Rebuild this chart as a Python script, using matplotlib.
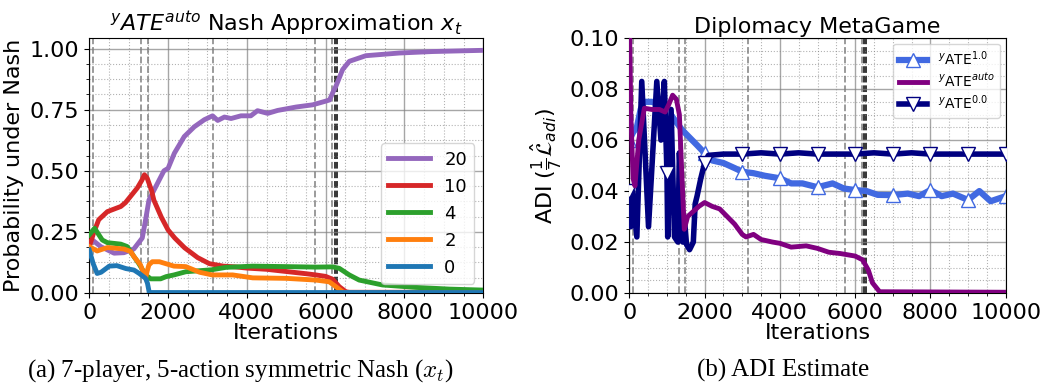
import matplotlib
matplotlib.use("Agg")
import matplotlib.pyplot as plt
from matplotlib.ticker import AutoMinorLocator

# Nash approximation x_t, one curve per action (left panel)
p20_it = [0, 80, 290, 630, 880, 1130, 1345, 1430, 1515, 1640, 1895, 2000, 2160, 2410, 2665, 2920,
          3130, 3260, 3430, 3600, 3850, 4100, 4270, 4530, 4780, 4950, 5250, 5670, 6000, 6100,
          6180, 6260, 6430, 6600, 7020, 7870, 8710, 10000]
p20 = [0.20, 0.217, 0.19, 0.163, 0.165, 0.18, 0.225, 0.30, 0.38, 0.42, 0.50, 0.51, 0.572, 0.64,
       0.68, 0.709, 0.725, 0.706, 0.72, 0.714, 0.725, 0.725, 0.746, 0.735, 0.747, 0.752, 0.761,
       0.77, 0.785, 0.79, 0.82, 0.846, 0.914, 0.948, 0.971, 0.982, 0.988, 0.993]

p10_it = [0, 120, 240, 460, 800, 920, 1220, 1330, 1400, 1470, 1580, 1640, 1830, 2000, 2170, 2420,
          2750, 3050, 3400, 3700, 4000, 4500, 5000, 5500, 5750, 6000, 6180, 6345, 6515, 6600, 10000]
p10 = [0.19, 0.25, 0.30, 0.333, 0.354, 0.37, 0.43, 0.46, 0.484, 0.47, 0.42, 0.38, 0.31, 0.258,
       0.225, 0.185, 0.145, 0.12, 0.11, 0.107, 0.102, 0.097, 0.088, 0.079, 0.074, 0.068, 0.056,
       0.026, 0.005, 0.003, 0.003]

p4_it = [0, 135, 330, 460, 800, 965, 1134, 1260, 1430, 1560, 1810, 1950, 2150, 2450, 3100, 3470,
         4150, 5000, 5750, 6180, 6345, 6600, 6850, 7440, 8290, 9140, 10000]
p4 = [0.238, 0.265, 0.217, 0.206, 0.20, 0.19, 0.149, 0.12, 0.074, 0.058, 0.058, 0.067, 0.074,
      0.087, 0.095, 0.105, 0.11, 0.108, 0.106, 0.107, 0.101, 0.074, 0.053, 0.033, 0.023, 0.016,
      0.012]

p2_it = [0, 200, 460, 880, 1050, 1134, 1300, 1430, 1470, 1514, 1600, 1780, 2150, 2450, 2800, 3120,
         3640, 4150, 5000, 5750, 6090, 6260, 6430, 6500, 10000]
p2 = [0.19, 0.172, 0.186, 0.18, 0.17, 0.149, 0.115, 0.06, 0.09, 0.115, 0.128, 0.128, 0.11, 0.108,
      0.085, 0.074, 0.074, 0.062, 0.06, 0.053, 0.046, 0.026, 0.005, 0.001, 0.001]

p0_it = [0, 100, 200, 300, 508, 700, 931, 1134, 1269, 1430, 1477, 1523, 10000]
p0 = [0.176, 0.12, 0.08, 0.085, 0.11, 0.112, 0.10, 0.094, 0.08, 0.06, 0.04, 0.002, 0.002]

# ADI estimates (right panel)
ate10_it = [0, 100, 200, 300, 400, 600, 800, 1000, 1200, 1400, 1600, 1800, 2000, 2200, 2500, 2800,
            3000, 3300, 3600, 4000, 4300, 4600, 5000, 5400, 5700, 6000, 6300, 6600, 7000, 7400,
            7700, 8000, 8300, 8600, 9000, 9300, 9600, 10000]
ate10 = [0.06, 0.063, 0.065, 0.072, 0.075, 0.075, 0.074, 0.072, 0.068, 0.064, 0.061, 0.058, 0.0549,
         0.052, 0.051, 0.049, 0.0476, 0.047, 0.046, 0.045, 0.043, 0.043, 0.0415, 0.043, 0.041,
         0.0404, 0.040, 0.0385, 0.0384, 0.039, 0.038, 0.0404, 0.038, 0.039, 0.0365, 0.040, 0.036,
         0.038]

auto_it = [0, 40, 100, 150, 250, 400, 600, 800, 950, 1050, 1150, 1250, 1330, 1400, 1460, 1550,
           1700, 1850, 2000, 2200, 2400, 2600, 2800, 3000, 3100, 3300, 3500, 3800, 4000, 4300,
           4700, 5000, 5300, 5600, 6000, 6200, 6350, 6460, 6650, 10000]
auto = [0.11, 0.07, 0.045, 0.042, 0.06, 0.0725, 0.072, 0.072, 0.071, 0.074, 0.0776, 0.076, 0.07,
        0.045, 0.025, 0.03, 0.032, 0.034, 0.0355, 0.034, 0.033, 0.030, 0.027, 0.023, 0.022, 0.023,
        0.021, 0.020, 0.0195, 0.018, 0.0185, 0.0175, 0.016, 0.0155, 0.0145, 0.013, 0.009, 0.004,
        0.0005, 0.0003]

ate00_it = [0, 40, 80, 200, 330, 510, 730, 840, 930, 1000, 1020, 1110, 1200, 1290, 1330, 1380,
            1420, 1470, 1520, 1600, 1700, 1750, 1800, 1900, 2000, 2100, 2500, 3000, 3500, 4000,
            4500, 5000, 5500, 6000, 6500, 7000, 7500, 8000, 8500, 9000, 9500, 10000]
ate00 = [0.040, 0.026, 0.040, 0.022, 0.083, 0.026, 0.083, 0.060, 0.083, 0.047, 0.022, 0.072,
         0.022, 0.020, 0.055, 0.040, 0.020, 0.028, 0.019, 0.017, 0.020, 0.035, 0.038, 0.045, 0.051,
         0.054, 0.0545, 0.0545, 0.055, 0.0545, 0.055, 0.0545, 0.0545, 0.0545, 0.055, 0.0545, 0.055,
         0.0545, 0.0545, 0.0545, 0.0545, 0.0545]

# iterations where the meta-game was refit
refits = [100, 1320, 1490, 3145, 5735, 6170, 6240, 6280]
refit_colors = ["gray", "gray", "gray", "gray", "gray", "gray", "k", "k"]

plt.rcParams["font.size"] = 16

fig = plt.figure(figsize=(10.44, 3.88), dpi=100)
ax1 = fig.add_axes([0.0855, 0.2448, 0.3774, 0.657])
ax2 = fig.add_axes([0.6028, 0.2448, 0.3605, 0.657])


def decorate(ax):
    for it, c in zip(refits, refit_colors):
        ax.axvline(it, color=c, ls="--", lw=1.3, alpha=0.85, zorder=1)
    ax.xaxis.set_minor_locator(AutoMinorLocator(4))
    ax.yaxis.set_minor_locator(AutoMinorLocator(4))
    ax.grid(True, which="major", color="gray", lw=1.0, alpha=0.7)
    ax.grid(True, which="minor", color="gray", ls=":", lw=0.8, alpha=0.6)
    ax.set_xlim(0, 10000)
    ax.set_xticks([0, 2000, 4000, 6000, 8000, 10000])
    ax.set_xlabel("Iterations", labelpad=0)


ax1.plot(p20_it, p20, color="tab:purple", lw=3.5, label="20", zorder=3)
ax1.plot(p10_it, p10, color="tab:red", lw=3.5, label="10", zorder=3)
ax1.plot(p4_it, p4, color="tab:green", lw=3.5, label="4", zorder=3)
ax1.plot(p2_it, p2, color="tab:orange", lw=3.5, label="2", zorder=3)
ax1.plot(p0_it, p0, color="tab:blue", lw=3.5, label="0", zorder=3)
decorate(ax1)
ax1.set_ylim(0, 1.043)
ax1.set_yticks([0, 0.25, 0.5, 0.75, 1.0])
ax1.set_ylabel("Probability under Nash")
ax1.set_title(r"$^{y}ATE^{auto}$ Nash Approximation $x_t$", fontsize=16, pad=4)
ax1.legend(loc="lower right", fontsize=13, handlelength=2.3)


def marks(its):
    return [i for i, v in enumerate(its) if v % 1000 == 0]


h1, = ax2.plot(ate10_it, ate10, color="royalblue", lw=4.5, marker="^", ms=10, mfc="white",
               markevery=marks(ate10_it), zorder=2, label=r"$^{y}$ATE$^{1.0}$")
h3, = ax2.plot(ate00_it, ate00, color="navy", lw=4, marker="v", ms=10, mfc="white",
               markevery=marks(ate00_it), zorder=3, label=r"$^{y}$ATE$^{0.0}$")
h2, = ax2.plot(auto_it, auto, color="purple", lw=3.5, zorder=4, label=r"$^{y}$ATE$^{auto}$")
decorate(ax2)
ax2.set_ylim(0, 0.1)
ax2.set_yticks([0, 0.02, 0.04, 0.06, 0.08, 0.10])
ax2.set_ylabel(r"ADI ($\frac{1}{7}\hat{\mathcal{L}}_{adi}$)")
ax2.set_title("Diplomacy MetaGame", fontsize=16, pad=4)
ax2.legend(handles=[h1, h2, h3], loc="upper right", fontsize=10, labelspacing=0.3,
           borderaxespad=0.4)

fig.text(0.23, 0.03, r"(a) 7-player, 5-action symmetric Nash ($x_t$)", ha="center",
         va="baseline", family="Liberation Serif", fontsize=18, math_fontfamily="cm")
fig.text(0.75, 0.03, "(b) ADI Estimate", ha="center", va="baseline",
         family="Liberation Serif", fontsize=18)

fig.savefig("out.png", dpi=100)
